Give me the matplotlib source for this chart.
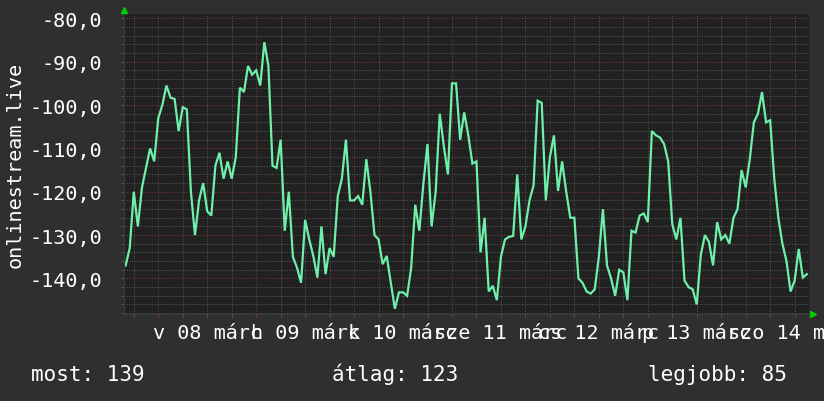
import matplotlib
matplotlib.use("Agg")
import matplotlib.pyplot as plt
import matplotlib.dates as mdates
import matplotlib.transforms as mtransforms
import pandas as pd
from matplotlib.ticker import FuncFormatter, MultipleLocator

# hourly samples, first one at 2020-03-07 16:00
SERIES_START = "2020-03-07 16:00"
signal = [
    -137, -133, -120, -128, -119, -114.5, -110, -113,
    -103, -100, -95.5, -98.3, -98.6, -106, -100.5, -101,
    -120, -130, -122, -118, -124.5, -125.5, -114, -111,
    -117, -113, -117, -112, -96, -97, -91, -93,
    -92, -95.5, -85.5, -91, -114, -114.5, -108, -129,
    -120, -135, -137.5, -141, -126.5, -131, -134.8, -139.8,
    -128, -139, -133, -135, -121, -117, -108, -122,
    -122, -121, -123, -112.5, -120, -130, -131, -136.7,
    -134.8, -141, -147, -143.2, -143.2, -144, -137.5, -123,
    -129, -118, -109, -128, -120, -102, -109.5, -116,
    -95, -95, -108, -101.7, -107, -113.5, -113, -134,
    -126, -143, -141.7, -145, -135, -131, -130.4, -130.2,
    -116, -131, -128, -122, -118.5, -99, -99.5, -122,
    -112, -107, -119.8, -113, -120, -126, -126, -140,
    -141, -143, -143.5, -142.5, -135, -124, -137, -140,
    -144, -138, -138.6, -145, -129, -129.4, -125.5, -125,
    -127, -106, -107, -107.5, -109, -113, -127.5, -131,
    -126, -140.5, -142, -142.5, -146, -134.5, -130, -131.6,
    -137, -127, -131, -130, -132, -126, -124, -115,
    -119, -112.5, -104, -102, -97, -104, -103.5, -117,
    -126, -132, -136, -143, -140.5, -133.2, -139.8, -139,
]
VIEW_START = "2020-03-07 15:36"
VIEW_END = "2020-03-14 15:36"
day_labels = ["v 08 márc", "h 09 márc", "k 10 márc", "sze 11 márc",
              "cs 12 márc", "p 13 márc", "szo 14 márc"]
y_limits = (-148.2, -79.0)
y_axis_title = "onlinestream.live"
summary = [("most", 139), ("átlag", 123), ("legjobb", 85)]

FONT = "DejaVu Sans Mono"
BG = "#2f2f2f"
CANVAS = "#212121"
LINE = "#6ef0aa"
TEXT = "#ffffff"


def main():
    times = pd.date_range(SERIES_START, periods=len(signal), freq="h")
    view = (pd.Timestamp(VIEW_START), pd.Timestamp(VIEW_END))

    fig = plt.figure(figsize=(8.24, 4.02), dpi=100, facecolor=BG)
    ax = fig.add_axes([0.1505, 0.2164, 0.9822 - 0.1505, 0.9627 - 0.2164])
    ax.set_facecolor(CANVAS)

    ax.plot(times, signal, color=LINE, linewidth=1.6, solid_joinstyle="miter")
    ax.set_xlim(view)
    ax.set_ylim(*y_limits)

    # grid: grey dots every 6 h / 2 units, red dots at midnight / every 10
    ax.xaxis.set_major_locator(mdates.DayLocator())
    ax.xaxis.set_minor_locator(mdates.HourLocator(byhour=[0, 6, 12, 18]))
    ax.xaxis.set_major_formatter(FuncFormatter(lambda v, p: ""))
    ax.yaxis.set_major_locator(MultipleLocator(10))
    ax.yaxis.set_minor_locator(MultipleLocator(2))
    ax.yaxis.set_major_formatter(
        FuncFormatter(lambda v, p: f"{v:.1f}".replace(".", ",")))
    ax.grid(which="minor", color="#555555", linestyle=(0, (1, 1.5)), linewidth=0.72)
    ax.grid(which="major", color="#743636", linestyle=(0, (1, 1.5)), linewidth=0.72)
    ax.set_axisbelow(True)

    ax.tick_params(axis="y", which="major", length=2, color="#555555",
                   labelcolor=TEXT, labelsize=14.5, pad=14)
    ax.tick_params(axis="y", which="minor", length=2, color="#555555")
    ax.tick_params(axis="x", which="both", length=3, color="#555555")
    ax.tick_params(axis="x", which="major", color="#7a3434")
    for lbl in ax.get_yticklabels():
        lbl.set_fontfamily(FONT)

    for side in ("top", "right"):
        ax.spines[side].set_visible(False)
    for side in ("left", "bottom"):
        ax.spines[side].set_color("#3c3c3c")

    # day labels centred on noon
    trans = mtransforms.blended_transform_factory(ax.transData, ax.transAxes)
    noons = pd.date_range("2020-03-08 12:00", periods=len(day_labels), freq="D")
    for t, lbl in zip(noons, day_labels):
        ax.text(mdates.date2num(t), -24 / 300, lbl, transform=trans,
                ha="center", va="baseline", color=TEXT, fontsize=14.5,
                family=FONT, clip_on=False)

    # axis arrows
    ax.plot([0], [1.014], marker="^", markersize=5, color="#00d000",
            transform=ax.transAxes, clip_on=False)
    ax.plot([1.006], [0], marker=">", markersize=5, color="#00d000",
            transform=ax.transAxes, clip_on=False)

    fig.text(15 / 824, 1 - 165 / 402, y_axis_title, rotation=90, ha="center",
             va="center", color=TEXT, fontsize=14.5, family=FONT)

    x_pos = [31 / 824, 332 / 824, 648 / 824]
    for x, (name, val) in zip(x_pos, summary):
        fig.text(x, 21 / 402, f"{name}: {val}", ha="left", va="baseline",
                 color=TEXT, fontsize=15, family=FONT)

    fig.savefig("out.png", dpi=100, facecolor=BG)


if __name__ == "__main__":
    main()
